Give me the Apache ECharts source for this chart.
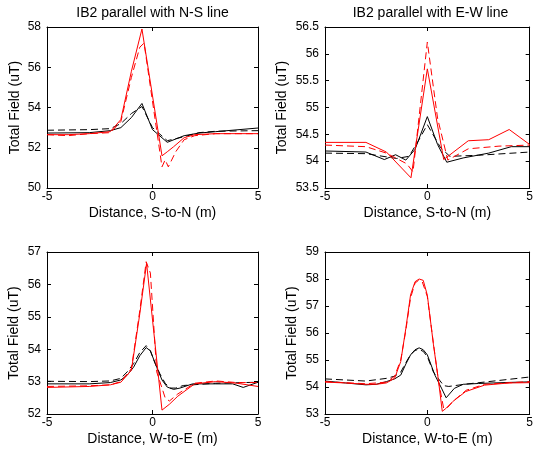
<!DOCTYPE html>
<html>
<head>
<meta charset="utf-8">
<script src="https://cdn.jsdelivr.net/npm/echarts@6/dist/echarts.min.js"></script>
<style>html,body{margin:0;padding:0;background:#fff}#c{width:536px;height:454px}</style>
</head>
<body>
<div id="c"></div>
<script>
// ---------- Titles / axis names ----------
const titles = ['IB2 parallel with N-S line', 'IB2 parallel with E-W line', '', ''];
const xNames = ['Distance, S-to-N (m)', 'Distance, S-to-N (m)', 'Distance, W-to-E (m)', 'Distance, W-to-E (m)'];
const yName = 'Total Field (uT)';
const xTicks = [-5, 0, 5];
const yRanges = [[50, 58, 2], [53.5, 56.5, 0.5], [52, 57, 1], [53, 59, 1]];

// ---------- Top-left: IB2 parallel with N-S line ----------
const tlRedSolidX = [-5, -4, -3, -2, -1.5, -1, -0.5, 0.45, 0.7, 1, 1.5, 2, 3, 4, 5];
const tlRedSolidY = [52.65, 52.65, 52.7, 52.8, 53.4, 55.8, 57.9, 51.6, 51.8, 52.05, 52.5, 52.65, 52.7, 52.7, 52.7];
const tlRedDashX = [-5, -4, -3, -2, -1.5, -1, -0.6, -0.4, 0.45, 0.6, 0.75, 1.1, 1.5, 2, 3, 4, 5];
const tlRedDashY = [52.65, 52.6, 52.7, 52.75, 53.3, 55.5, 57.0, 57.2, 51.05, 51.4, 51.05, 51.8, 52.4, 52.6, 52.7, 52.7, 52.7];
const tlBlkSolidX = [-5, -3, -2, -1.5, -1, -0.5, 0, 0.7, 1.5, 2.2, 3, 5];
const tlBlkSolidY = [52.73, 52.75, 52.85, 53.0, 53.5, 54.2, 52.9, 52.27, 52.6, 52.73, 52.8, 52.98];
const tlBlkDashX = [-5, -3, -2, -1.5, -1, -0.5, 0, 0.7, 1.5, 2.2, 3, 5];
const tlBlkDashY = [52.87, 52.9, 52.95, 53.2, 53.7, 54.05, 53.0, 52.35, 52.55, 52.75, 52.82, 52.85];

// ---------- Top-right: IB2 parallel with E-W line ----------
const trRedSolidX = [-5, -3, -2, -0.8, 0, 0.8, 2, 3, 4, 5];
const trRedSolidY = [54.35, 54.35, 54.17, 53.69, 55.72, 54.03, 54.38, 54.4, 54.59, 54.31];
const trRedDashX = [-5, -3, -2, -1, -0.7, 0, 0.5, 1, 2, 3.5, 5];
const trRedDashY = [54.3, 54.27, 54.15, 53.95, 53.8, 56.22, 54.8, 54.02, 54.23, 54.28, 54.3];
const trBlkSolidX = [-5, -3, -2.1, -1.55, -1.05, -0.6, 0, 0.5, 0.95, 1.75, 3, 4.1, 5];
const trBlkSolidY = [54.19, 54.17, 54.03, 54.12, 54.02, 54.22, 54.83, 54.31, 53.98, 54.06, 54.15, 54.27, 54.27];
const trBlkDashX = [-5, -3, -1.5, -0.9, -0.45, 0, 0.65, 1.1, 2.5, 5];
const trBlkDashY = [54.15, 54.14, 54.05, 54.09, 54.37, 54.68, 54.25, 54.09, 54.11, 54.17];

// ---------- Bottom-left ----------
const blRedSolidX = [-5, -3, -2, -1.5, -1, -0.6, -0.28, 0.45, 0.8, 1.2, 2, 3, 4, 5];
const blRedSolidY = [52.82, 52.85, 52.9, 52.98, 53.35, 55.1, 56.65, 52.12, 52.3, 52.55, 52.93, 53.0, 52.95, 52.85];
const blRedDashX = [-5, -3, -2, -1.5, -1, -0.6, -0.3, -0.1, 0.2, 0.6, 0.8, 1.2, 2, 3, 4, 5];
const blRedDashY = [52.85, 52.87, 52.9, 53.0, 53.4, 55.2, 56.7, 56.35, 53.3, 52.5, 52.4, 52.62, 52.95, 53.02, 52.97, 52.97];
const blBlkSolidX = [-5, -3, -2, -1.5, -1.2, -0.9, -0.6, -0.3, -0.1, 0.2, 0.45, 0.7, 1.0, 1.3, 1.9, 3, 3.8, 4.3, 5];
const blBlkSolidY = [52.93, 52.93, 52.97, 53.05, 53.2, 53.44, 53.8, 54.05, 53.95, 53.44, 53.05, 52.83, 52.76, 52.8, 52.93, 52.93, 52.93, 52.82, 52.98];
const blBlkDashX = [-5, -3, -2, -1.5, -1.2, -0.9, -0.6, -0.3, -0.1, 0.1, 0.35, 0.6, 0.83, 1.1, 1.46, 3, 5];
const blBlkDashY = [53.01, 53.0, 53.02, 53.1, 53.3, 53.55, 53.9, 54.11, 53.95, 53.6, 53.24, 52.95, 52.8, 52.8, 52.88, 52.95, 52.98];

// ---------- Bottom-right ----------
const brRedSolidX = [-5, -4, -3, -2.5, -2, -1.6, -1.3, -1.05, -0.82, -0.6, -0.4, -0.2, 0, 0.3, 0.53, 0.73, 0.9, 1.24, 1.87, 2.8, 4, 5];
const brRedSolidY = [54.18, 54.15, 54.1, 54.1, 54.15, 54.32, 54.94, 56.17, 57.41, 57.9, 58.0, 57.95, 57.4, 55.56, 54.32, 53.1, 53.2, 53.46, 53.83, 54.07, 54.15, 54.16];
const brRedDashX = [-5, -3, -2, -1.6, -1.3, -1.05, -0.82, -0.6, -0.43, -0.25, 0, 0.3, 0.55, 0.8, 1.0, 1.3, 1.9, 2.8, 5];
const brRedDashY = [54.2, 54.12, 54.18, 54.4, 55.0, 56.1, 57.3, 57.85, 57.95, 57.9, 57.35, 55.6, 54.2, 53.2, 53.25, 53.5, 53.88, 54.1, 54.2];
const brBlkSolidX = [-5, -4, -3, -2.5, -2, -1.6, -1.3, -1.05, -0.82, -0.6, -0.4, -0.2, 0, 0.37, 0.69, 0.92, 1.32, 1.75, 2.5, 4, 5];
const brBlkSolidY = [54.22, 54.15, 54.08, 54.1, 54.2, 54.3, 54.44, 54.85, 55.19, 55.38, 55.45, 55.38, 55.19, 54.44, 53.96, 53.6, 53.95, 54.1, 54.13, 54.17, 54.19];
const brBlkDashX = [-5, -3, -2, -1.6, -1.3, -1.05, -0.82, -0.6, -0.43, -0.2, 0, 0.3, 0.55, 0.8, 1.05, 1.8, 3, 5];
const brBlkDashY = [54.3, 54.22, 54.32, 54.4, 54.55, 54.9, 55.2, 55.35, 55.4, 55.32, 55.12, 54.55, 54.3, 54.05, 54.02, 54.1, 54.2, 54.37];

const panels = [
  [[tlBlkDashX, tlBlkDashY], [tlBlkSolidX, tlBlkSolidY], [tlRedDashX, tlRedDashY], [tlRedSolidX, tlRedSolidY]],
  [[trBlkDashX, trBlkDashY], [trBlkSolidX, trBlkSolidY], [trRedDashX, trRedDashY], [trRedSolidX, trRedSolidY]],
  [[blBlkDashX, blBlkDashY], [blBlkSolidX, blBlkSolidY], [blRedDashX, blRedDashY], [blRedSolidX, blRedSolidY]],
  [[brBlkDashX, brBlkDashY], [brBlkSolidX, brBlkSolidY], [brRedDashX, brRedDashY], [brRedSolidX, brRedSolidY]]
];
const lineColors = ['#000000', '#000000', '#ff0000', '#ff0000'];
const lineDashed = [true, false, true, false];

// ---------- layout ----------
const gridBoxes = [
  {left: 47, top: 27, width: 211, height: 161},
  {left: 325, top: 27, width: 211, height: 161},
  {left: 47, top: 252, width: 211, height: 162},
  {left: 325, top: 252, width: 211, height: 162}
];
const yNameGaps = [25, 36, 26, 26];
const FONT = 'Liberation Sans, Arial, sans-serif';

const grid = [], xAxis = [], yAxis = [], series = [], graphic = [];
gridBoxes.forEach((g, i) => {
  grid.push(Object.assign({containLabel: false}, g));
  const common = {
    gridIndex: i, type: 'value', min: -5, max: 5, interval: 5,
    axisLine: {onZero: false, lineStyle: {color: '#000', width: 1}},
    axisTick: {inside: true, length: 4, lineStyle: {color: '#000'}},
    splitLine: {show: false}
  };
  xAxis.push(Object.assign({}, common, {
    position: 'bottom',
    axisLabel: {color: '#000', fontSize: 12, fontFamily: FONT, margin: 3},
    name: xNames[i], nameLocation: 'middle', nameGap: 18,
    nameTextStyle: {color: '#000', fontSize: 14, fontFamily: FONT}
  }));
  xAxis.push(Object.assign({}, common, {position: 'top', axisLabel: {show: false}}));
  const [ymin, ymax, yint] = yRanges[i];
  const ycommon = {
    gridIndex: i, type: 'value', min: ymin, max: ymax, interval: yint,
    axisLine: {onZero: false, lineStyle: {color: '#000', width: 1}},
    axisTick: {inside: true, length: 4, lineStyle: {color: '#000'}},
    splitLine: {show: false}
  };
  yAxis.push(Object.assign({}, ycommon, {
    position: 'left',
    axisLabel: {color: '#000', fontSize: 12, fontFamily: FONT, margin: 6},
    name: yName, nameLocation: 'middle', nameRotate: 90, nameGap: yNameGaps[i],
    nameTextStyle: {color: '#000', fontSize: 14, fontFamily: FONT}
  }));
  yAxis.push(Object.assign({}, ycommon, {position: 'right', axisLabel: {show: false}}));
  panels[i].forEach((ln, k) => {
    series.push({
      type: 'line', xAxisIndex: 2 * i, yAxisIndex: 2 * i,
      data: ln[0].map((x, j) => [x, ln[1][j]]),
      showSymbol: false, symbol: 'none', animation: false,
      lineStyle: {color: lineColors[k], width: 1, type: lineDashed[k] ? [7, 4] : 'solid'},
      z: 2 + k
    });
  });
  if (titles[i]) {
    graphic.push({
      type: 'text', x: g.left + g.width / 2, y: g.top - 14,
      style: {text: titles[i], fill: '#000', fontSize: 14, fontFamily: FONT, align: 'center', verticalAlign: 'middle'}
    });
  }
});

const chart = echarts.init(document.getElementById('c'), null, {renderer: 'canvas'});
chart.setOption({animation: false, backgroundColor: '#fff', grid, xAxis, yAxis, series, graphic});
</script>
</body>
</html>
